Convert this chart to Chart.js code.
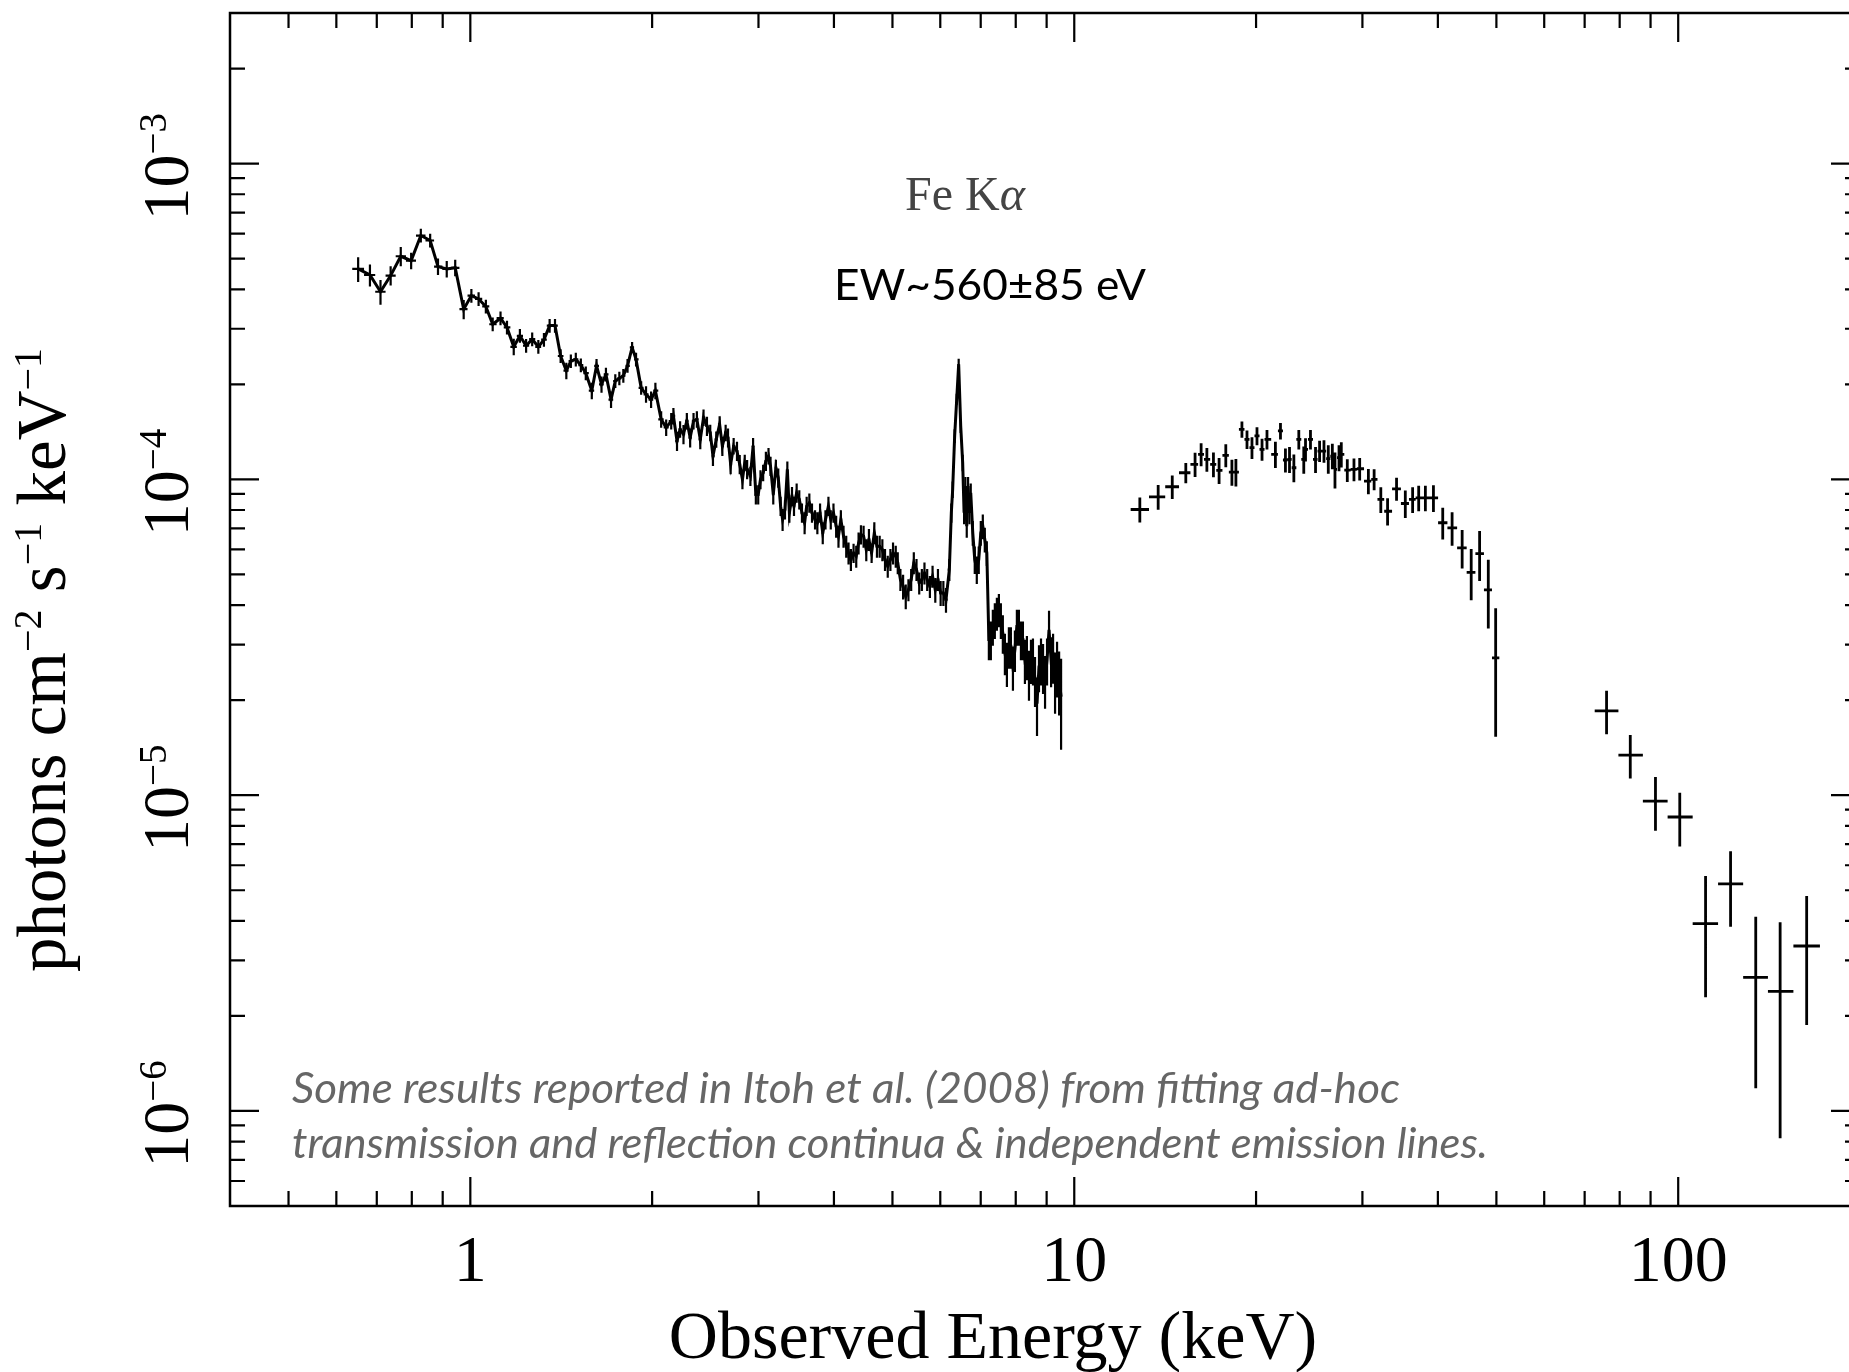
<!DOCTYPE html>
<html>
<head>
<meta charset="utf-8">
<script src="https://cdn.jsdelivr.net/npm/chart.js@4.4.0/dist/chart.umd.min.js"></script>
<style>
    html, body { margin: 0; padding: 0; background: #fff; overflow: hidden; }
    #wrap { position: relative; width: 1900px; height: 1372px; }
</style>
</head>
<body>
<div id="wrap"><canvas id="spectrum"></canvas></div>
<script>
// flux values below are in units of 1e-5 photons cm^-2 s^-1 keV^-1
const FLUX_UNIT = 1e-5;

// XIS spectrum (connected), energy in keV
const xisE = [
    0.652, 0.682, 0.710, 0.738, 0.767, 0.798, 0.828, 0.858, 0.884, 0.914,
    0.944, 0.975, 1.004, 1.032, 1.061, 1.089, 1.122, 1.150, 1.180, 1.208,
    1.237, 1.266, 1.296, 1.324, 1.353, 1.381, 1.411, 1.442, 1.467, 1.495,
    1.524, 1.553, 1.589, 1.618, 1.649, 1.677, 1.710, 1.738, 1.765, 1.792,
    1.821, 1.853, 1.881, 1.918, 1.954, 1.992, 2.025, 2.070, 2.110, 2.151,
    2.169, 2.199, 2.225, 2.254, 2.283, 2.312, 2.342, 2.372, 2.403, 2.433,
    2.465, 2.496, 2.522, 2.554, 2.587, 2.614, 2.647, 2.671, 2.698, 2.729,
    2.764, 2.793, 2.822, 2.847, 2.873, 2.909, 2.939, 2.970, 2.997, 3.023,
    3.054, 3.086, 3.117, 3.141, 3.174, 3.206, 3.235, 3.264, 3.289, 3.319,
    3.349, 3.375, 3.409, 3.435, 3.470, 3.505, 3.541, 3.577, 3.605, 3.642,
    3.679, 3.722, 3.755, 3.794, 3.833, 3.873, 3.917, 3.952, 3.993, 4.034,
    4.070, 4.107, 4.149, 4.192, 4.229, 4.267, 4.311, 4.355, 4.394, 4.434,
    4.479, 4.525, 4.571, 4.618, 4.666, 4.713, 4.762, 4.811, 4.860, 4.911,
    4.961, 5.011, 5.063, 5.102, 5.154, 5.207, 5.260, 5.314, 5.370, 5.424,
    5.480, 5.537, 5.593, 5.649, 5.708, 5.767, 5.826, 5.887, 5.947, 6.008,
    6.071, 6.132,
    6.211, 6.258, 6.290, 6.338, 6.388, 6.436, 6.486, 6.535, 6.570, 6.603,
    6.637, 6.671, 6.705, 6.739, 6.791, 6.843, 6.896, 6.948, 7.002, 7.056,
    7.110, 7.165, 7.221, 7.276, 7.331, 7.387, 7.445, 7.502, 7.559, 7.616,
    7.676, 7.735, 7.794, 7.853, 7.915, 7.975, 8.035, 8.097, 8.160, 8.222,
    8.285, 8.348, 8.414, 8.478, 8.543, 8.610, 8.676, 8.742, 8.809, 8.878,
    8.946, 9.014, 9.083, 9.155, 9.224, 9.294, 9.365, 9.439, 9.510
];
const xisFlux = [
    46.4, 44.4, 39.3, 44.2, 50.9, 49.3, 59.2, 57.1, 47.2, 46.4,
    46.8, 34.6, 38.2, 37.3, 35.3, 31.0, 32.4, 30.3, 26.3, 28.5,
    26.5, 27.8, 26.3, 27.7, 30.7, 30.7, 24.6, 22.1, 23.7, 24.0,
    23.0, 21.7, 19.1, 22.9, 20.0, 21.5, 17.9, 20.5, 20.9, 21.3,
    22.9, 26.2, 24.0, 19.5, 18.6, 17.9, 19.1, 15.5, 14.6, 15.3,
    15.89, 13.23, 14.41, 13.90, 15.32, 13.56, 15.32, 15.51, 13.39, 15.70,
    14.77, 14.06, 11.86, 13.39, 14.95, 12.75, 14.06, 13.56, 11.16, 12.75,
    12.30, 11.16, 10.00, 11.29, 10.76, 10.25, 12.75, 8.96, 8.96, 10.00,
    10.50, 11.43, 11.86, 11.02, 8.96, 10.89, 10.12, 8.23, 7.46, 8.03,
    10.76, 7.84, 8.85, 8.23, 9.07, 8.64, 7.84, 7.29, 8.23, 8.43,
    7.84, 7.46, 7.29, 7.84, 6.77, 7.46, 8.23, 7.46, 7.84, 7.11,
    6.61, 7.46, 6.61, 6.14, 5.85, 5.57, 5.85, 5.71, 6.29, 6.69,
    6.61, 5.99, 6.45, 5.85, 6.77, 6.14, 6.14, 5.99, 5.57, 5.31,
    5.57, 5.85, 5.71, 5.44, 4.82, 4.58, 4.26, 4.47, 4.82, 5.44,
    5.18, 4.70, 4.82, 5.05, 4.82, 4.58, 4.93, 4.47, 4.82, 4.37,
    4.37, 4.16,
    5.18, 7.84, 9.29, 13.73, 17.95, 23.17, 14.77, 11.29, 7.84, 9.52,
    7.11, 9.52, 7.84, 9.07, 6.77, 5.57, 5.18, 5.57, 6.77, 7.11,
    6.45, 5.85, 3.11, 3.11, 3.42, 3.59, 3.77, 3.87, 3.59, 3.26,
    2.82, 2.62, 2.96, 2.96, 2.55, 2.89, 3.42, 3.42, 3.11, 3.11,
    2.68, 2.75, 2.43, 2.68, 2.68, 2.32, 1.95, 2.55, 2.68, 2.55,
    2.32, 2.68, 3.34, 2.68, 2.75, 2.32, 2.55, 2.32, 2.05
];
// 1-sigma error in percent of flux
const xisErrPct = [
    9, 8, 9, 7, 7, 6, 5, 5, 6, 6,
    6, 7, 5, 5, 5, 5, 5, 5, 6, 5,
    5, 5, 5, 5, 5, 5, 5, 6, 5, 5,
    5, 5, 6, 5, 6, 5, 6, 5, 5, 5,
    5, 4, 5, 5, 6, 6, 6, 6, 6, 6,
    6, 7, 6, 7, 6, 7, 6, 6, 7, 6,
    7, 6, 7, 6, 6, 7, 6, 7, 7, 6,
    7, 7, 7, 6, 7, 7, 6, 7, 7, 7,
    6, 7, 6, 7, 7, 6, 7, 7, 8, 7,
    6, 7, 7, 7, 7, 7, 7, 8, 7, 7,
    7, 7, 8, 7, 8, 7, 7, 7, 7, 8,
    8, 7, 8, 8, 8, 8, 7, 8, 8, 7,
    8, 8, 8, 7, 8, 8, 8, 8, 8, 8,
    8, 8, 8, 8, 8, 9, 9, 8, 8, 8,
    8, 8, 8, 8, 8, 8, 8, 9, 8, 9,
    9, 9,
    8, 7, 6, 5, 4, 4, 5, 6, 8, 7,
    8, 7, 8, 7, 9, 10, 10, 10, 9, 9,
    9, 9, 14, 14, 13, 13, 12, 12, 13, 14,
    15, 16, 15, 15, 16, 15, 13, 13, 14, 14,
    16, 16, 18, 16, 17, 18, 21, 17, 17, 18,
    19, 17, 15, 18, 18, 22, 20, 23, 32
];

// HXD-PIN points
const pinE = [
    12.84, 13.77, 14.53, 15.30, 15.85, 16.22, 16.58, 17.00, 17.37, 17.82,
    18.24, 18.52, 18.95, 19.32, 19.69, 20.07, 20.46, 20.85, 21.53, 21.95,
    22.37, 22.72, 23.10, 23.54, 23.99, 24.15, 24.61, 25.09, 25.48, 25.91,
    26.34, 26.75, 27.02, 27.44, 27.68, 28.32, 29.05, 29.69, 30.69, 31.37,
    32.18, 33.02, 34.17, 35.33, 36.33, 37.18, 38.14, 39.33, 40.75, 42.23,
    43.88, 45.42, 46.90, 48.48, 49.86
];
const pinFlux = [
    8.03, 8.81, 9.48, 10.50, 11.16, 12.01, 11.57, 11.16, 10.68, 11.92,
    10.55, 10.55, 14.41, 13.39, 12.61, 13.73, 12.45, 13.39, 12.01, 14.24,
    11.52, 11.57, 10.89, 13.39, 11.57, 12.45, 13.39, 11.57, 12.30, 12.30,
    11.63, 11.86, 10.76, 11.72, 12.01, 10.70, 10.76, 10.81, 9.88, 10.00,
    8.64, 7.93, 9.34, 8.39, 8.64, 8.74, 8.74, 8.74, 7.29, 7.02,
    6.07, 5.08, 5.82, 4.47, 2.72
];
const pinErr = [
    0.73, 0.80, 0.81, 0.77, 0.98, 1.00, 1.00, 1.00, 1.00, 1.00,
    1.00, 1.05, 0.85, 0.90, 1.00, 0.90, 1.00, 0.95, 1.15, 0.85,
    1.00, 1.10, 1.10, 0.95, 1.15, 1.05, 0.95, 1.10, 0.95, 1.00,
    1.20, 1.10, 1.40, 1.10, 1.10, 0.89, 0.89, 0.89, 0.90, 0.76,
    0.81, 0.79, 0.78, 0.84, 0.81, 0.81, 0.81, 0.85, 0.84, 0.85,
    0.85, 0.94, 1.05, 1.10, 1.19
];

// HXD-GSO points
const gsoE = [76.1, 83.3, 91.7, 100.6, 111.0, 122.1, 134.4, 147.5, 163.2];
const gsoFlux = [1.85, 1.34, 0.957, 0.853, 0.392, 0.524, 0.265, 0.239, 0.333];
const gsoErr = [0.29, 0.21, 0.185, 0.165, 0.163, 0.141, 0.147, 0.157, 0.146];

// axes
const xRange = [0.4, 200];
const yRange = [5e-7, 3e-3];
const xMajorTicks = [1, 10, 100];
const xTickLabels = ['1', '10', '100'];
const yMajorTicks = [1e-3, 1e-4, 1e-5, 1e-6];
const yTickExponents = ['\u22123', '\u22124', '\u22125', '\u22126'];

const SERIF = '"Liberation Serif", "Times New Roman", serif';
const SANS = 'Lato, "Open Sans", sans-serif';

function buildPoints(E, flux, err, relative) {
    return E.map((e, i) => {
        const f = flux[i] * FLUX_UNIT;
        const er = err[i] !== undefined ? err[i] : err[err.length - 1];
        return { x: e, y: f, err: relative ? f * er / 100 : er * FLUX_UNIT };
    });
}

// minor tick values (2..9 per decade) inside a range
function minorTicks(range) {
    const out = [];
    for (let p = Math.floor(Math.log10(range[0])); p <= Math.ceil(Math.log10(range[1])); p++) {
        for (let m = 2; m <= 9; m++) {
            const v = m * Math.pow(10, p);
            if (v > range[0] * 1.0001 && v < range[1] * 0.9999) out.push(v);
        }
    }
    return out;
}

// crosses: x bar spans the bin (half-way to neighbours), y bar is +-err
const errorBarPlugin = {
    id: 'errorBars',
    afterDatasetsDraw(chart) {
        const { ctx, chartArea: a } = chart;
        const xs = chart.scales.x, ys = chart.scales.y;
        ctx.save();
        ctx.beginPath();
        ctx.rect(a.left, a.top, a.right - a.left, a.bottom - a.top);
        ctx.clip();
        ctx.strokeStyle = '#000';
        chart.data.datasets.forEach(ds => {
            const pts = ds.data;
            ctx.lineWidth = ds.barWidth || 2;
            ctx.beginPath();
            pts.forEach((p, i) => {
                const prev = pts[i - 1], next = pts[i + 1];
                const lo = prev ? Math.sqrt(prev.x * p.x) : p.x * p.x / Math.sqrt(p.x * next.x);
                const hi = next ? Math.sqrt(next.x * p.x) : p.x * p.x / Math.sqrt(p.x * prev.x);
                const px = xs.getPixelForValue(p.x);
                const py = ys.getPixelForValue(p.y);
                const top = ys.getPixelForValue(p.y + p.err);
                const bot = p.y - p.err > 0 ? ys.getPixelForValue(p.y - p.err) : a.bottom;
                ctx.moveTo(xs.getPixelForValue(lo), py);
                ctx.lineTo(xs.getPixelForValue(hi), py);
                ctx.moveTo(px, top);
                ctx.lineTo(px, bot);
            });
            ctx.stroke();
        });
        ctx.restore();
    }
};

// frame, ticks on all four sides, labels and annotations
const framePlugin = {
    id: 'frame',
    afterDraw(chart) {
        const { ctx, chartArea: a } = chart;
        const xs = chart.scales.x, ys = chart.scales.y;
        const MAJOR = 29, MINOR = 15;

        ctx.save();
        ctx.strokeStyle = '#000';
        ctx.lineWidth = 2.5;
        ctx.strokeRect(a.left, a.top, a.right - a.left, a.bottom - a.top);

        ctx.lineWidth = 2.2;
        ctx.beginPath();
        const xTick = (v, len) => {
            const px = xs.getPixelForValue(v);
            ctx.moveTo(px, a.bottom); ctx.lineTo(px, a.bottom - len);
            ctx.moveTo(px, a.top); ctx.lineTo(px, a.top + len);
        };
        const yTick = (v, len) => {
            const py = ys.getPixelForValue(v);
            ctx.moveTo(a.left, py); ctx.lineTo(a.left + len, py);
            ctx.moveTo(a.right, py); ctx.lineTo(a.right - len, py);
        };
        xMajorTicks.forEach(v => xTick(v, MAJOR));
        minorTicks(xRange).filter(v => !xMajorTicks.includes(v)).forEach(v => xTick(v, MINOR));
        yMajorTicks.forEach(v => yTick(v, MAJOR));
        minorTicks(yRange).forEach(v => yTick(v, MINOR));
        ctx.stroke();

        ctx.fillStyle = '#000';

        // x tick labels
        ctx.font = '66px ' + SERIF;
        ctx.textAlign = 'center';
        ctx.textBaseline = 'alphabetic';
        xMajorTicks.forEach((v, i) => {
            ctx.fillText(xTickLabels[i], xs.getPixelForValue(v), a.bottom + 75);
        });

        // y tick labels, rotated, 10 with superscript exponent
        ctx.textAlign = 'left';
        yMajorTicks.forEach((v, i) => {
            const py = ys.getPixelForValue(v) + 3;
            ctx.font = '66px ' + SERIF;
            const wBase = ctx.measureText('10').width;
            ctx.font = '39px ' + SERIF;
            const wExp = ctx.measureText(yTickExponents[i]).width;
            const start = -(wBase + wExp) / 2;
            ctx.save();
            ctx.translate(a.left - 42, py);
            ctx.rotate(-Math.PI / 2);
            ctx.font = '66px ' + SERIF;
            ctx.fillText('10', start, 0);
            ctx.font = '39px ' + SERIF;
            ctx.fillText(yTickExponents[i], start + wBase, -22);
            ctx.restore();
        });

        // x title
        ctx.font = '68px ' + SERIF;
        ctx.textAlign = 'center';
        ctx.fillText('Observed Energy (keV)', 993, a.bottom + 152);

        // y title with superscripts
        const parts = [
            ['photons cm', false], ['\u22122', true], [' s', false],
            ['\u22121', true], [' keV', false], ['\u22121', true]
        ];
        const setPart = sup => { ctx.font = (sup ? '40px ' : '69px ') + SERIF; };
        let total = 0;
        parts.forEach(([t, sup]) => { setPart(sup); total += ctx.measureText(t).width; });
        ctx.save();
        ctx.translate(65, 660);
        ctx.rotate(-Math.PI / 2);
        ctx.textAlign = 'left';
        let cx = -total / 2;
        parts.forEach(([t, sup]) => {
            setPart(sup);
            ctx.fillText(t, cx, sup ? -24 : 0);
            cx += ctx.measureText(t).width;
        });
        ctx.restore();

        // Fe K alpha label
        ctx.textAlign = 'left';
        ctx.fillStyle = '#444';
        ctx.font = '48px ' + SERIF;
        ctx.fillText('Fe K', 905, 210);
        const wFe = ctx.measureText('Fe K').width;
        ctx.font = 'italic 48px ' + SERIF;
        ctx.fillText('\u03b1', 905 + wFe, 210);

        // equivalent width
        ctx.fillStyle = '#000';
        ctx.font = '42px ' + SANS;
        drawFitted(ctx, 'EW~560\u00b185 eV', 834, 300, 312);

        // note
        ctx.fillStyle = '#666';
        ctx.font = 'italic 42px ' + SANS;
        drawFitted(ctx, 'Some results reported in Itoh et al. (2008) from fitting ad-hoc', 292, 1103, 1108);
        drawFitted(ctx, 'transmission and reflection continua & independent emission lines.', 292, 1158, 1196);

        ctx.restore();
    }
};

function drawFitted(ctx, text, x, y, width) {
    const w = ctx.measureText(text).width;
    ctx.save();
    ctx.translate(x, y);
    ctx.scale(width / w, 1);
    ctx.fillText(text, 0, 0);
    ctx.restore();
}

const chart = new Chart(document.getElementById('spectrum'), {
    type: 'scatter',
    data: {
        datasets: [
            {
                label: 'XIS',
                data: buildPoints(xisE, xisFlux, xisErrPct, true),
                showLine: true,
                borderColor: '#000',
                borderWidth: 3,
                pointRadius: 0,
                tension: 0,
                barWidth: 2.2
            },
            {
                label: 'HXD-PIN',
                data: buildPoints(pinE, pinFlux, pinErr, false),
                showLine: false,
                pointRadius: 0,
                barWidth: 2.8
            },
            {
                label: 'HXD-GSO',
                data: buildPoints(gsoE, gsoFlux, gsoErr, false),
                showLine: false,
                pointRadius: 0,
                barWidth: 2.8
            }
        ]
    },
    options: {
        responsive: true,
        maintainAspectRatio: false,
        animation: false,
        devicePixelRatio: 1,
        layout: { padding: { left: 230, top: 13, right: 40, bottom: 166 } },
        plugins: {
            legend: { display: false },
            tooltip: { enabled: false }
        },
        scales: {
            x: { type: 'logarithmic', min: xRange[0], max: xRange[1], display: false },
            y: { type: 'logarithmic', min: yRange[0], max: yRange[1], display: false }
        }
    },
    plugins: [errorBarPlugin, framePlugin]
});
</script>
</body>
</html>
